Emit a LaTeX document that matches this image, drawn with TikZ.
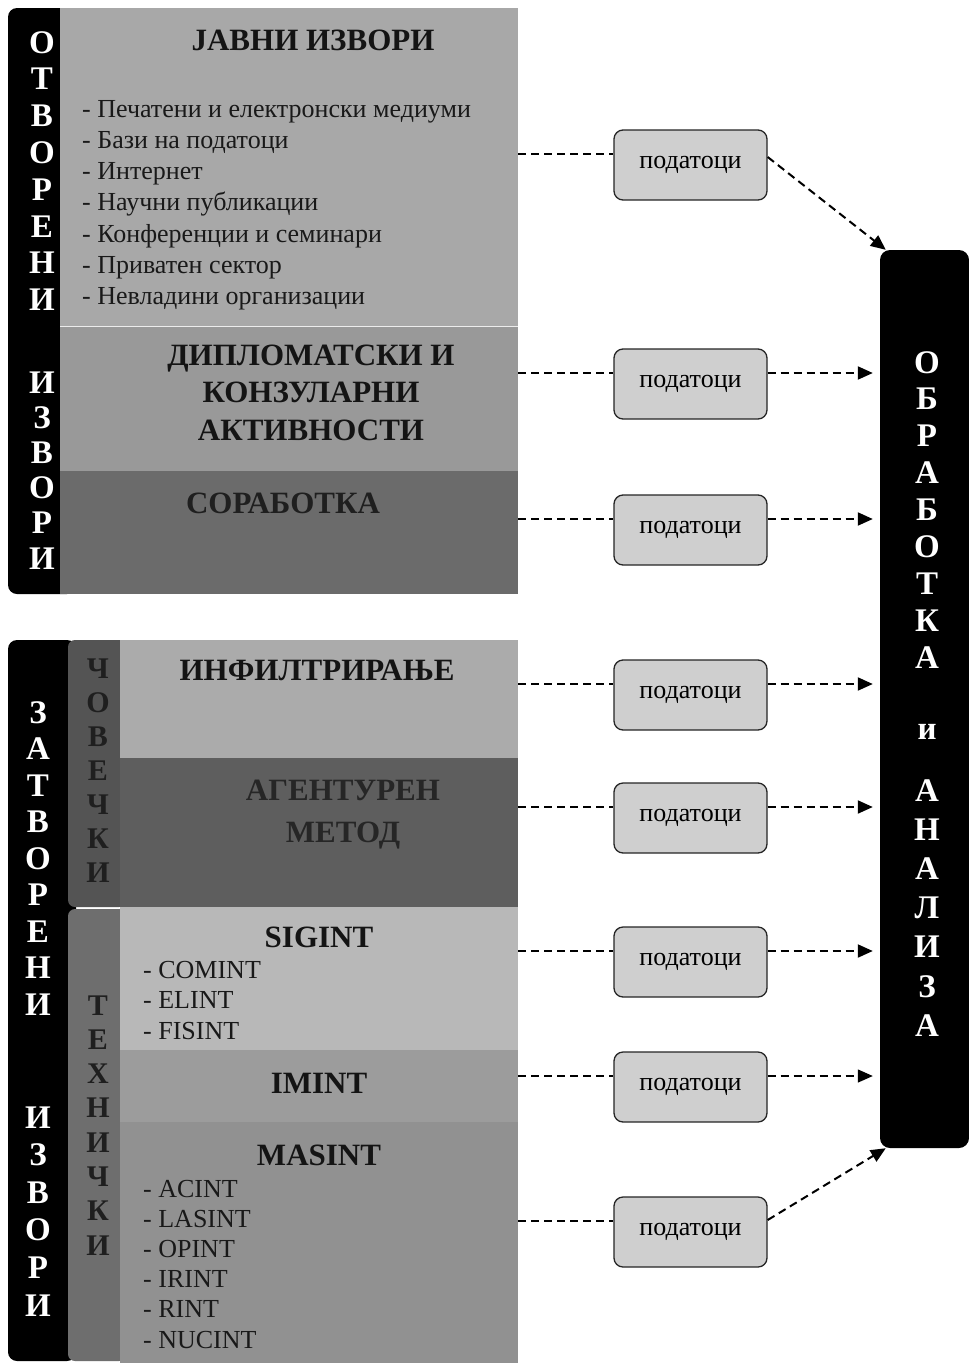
\documentclass[tikz,border=0pt]{standalone}
\usepackage{fontspec}
\setmainfont{Liberation Serif}
\usetikzlibrary{arrows.meta,calc}
\definecolor{cjavni}{gray}{0.66}
\definecolor{cdipl}{gray}{0.60}
\definecolor{csorab}{gray}{0.42}
\definecolor{cinf}{gray}{0.67}
\definecolor{cagen}{gray}{0.37}
\definecolor{csig}{gray}{0.72}
\definecolor{cimint}{gray}{0.61}
\definecolor{cmasint}{gray}{0.57}
\definecolor{cchov}{gray}{0.33}
\definecolor{ctehn}{gray}{0.43}
\definecolor{cbox}{gray}{0.81}
\begin{document}
\begin{tikzpicture}[x=1pt,y=-1pt,
  ttl/.style={font=\fontsize{31}{37}\selectfont\bfseries, inner sep=0pt, anchor=base, text=black!92},
  itm/.style={font=\fontsize{26}{31}\selectfont, inner sep=0pt, anchor=base west, text=black!90},
  bl/.style={font=\fontsize{33}{33}\selectfont\bfseries, inner sep=0pt, text=white, text height=22pt, text depth=0pt, anchor=center},
  gl/.style={font=\fontsize{30}{30}\selectfont\bfseries, inner sep=0pt, text=black!88, text height=20pt, text depth=0pt, anchor=center},
  dbox/.style={draw=black!85, line width=1.3pt, rounded corners=9pt, fill=cbox, minimum width=153pt, minimum height=70pt, inner sep=0pt, font=\fontsize{26}{30}\selectfont},
  dline/.style={dash pattern=on 8pt off 5pt, line width=2pt},
  arr/.style={-{Triangle[length=15pt,width=13pt]}}]
\useasboundingbox[fill=white] (0,0) rectangle (969,1363);

% ---------- top group ----------
\fill[black, rounded corners=9pt] (8,8) rectangle (76,594);
\fill[cjavni] (60,8) rectangle (518,326);
\fill[cdipl] (60,326) rectangle (518,471);
\fill[csorab] (60,471) rectangle (518,594);
\draw[white!85!gray, line width=1pt] (60,326) -- (518,326);

\foreach \l [count=\i from 0] in {О,Т,В,О,Р,Е,Н,И}
  \node[bl] (ot\i) at (42,{42+36.8*\i}) {\l};
\foreach \l [count=\i from 0] in {И,З,В,О,Р,И}
  \node[bl] (oi\i) at (42,{382+35.2*\i}) {\l};

\node[ttl] (javni) at (313,50) {ЈАВНИ ИЗВОРИ};
\foreach \t [count=\i from 0] in {Печатени и електронски медиуми,Бази на податоци,Интернет,Научни публикации,Конференции и семинари,Приватен сектор,Невладини организации}
  \node[itm] (ji\i) at (82,{117+31.3*\i}) {- \t};
\node[ttl] (dip1) at (311,365) {ДИПЛОМАТСКИ И};
\node[ttl] (dip2) at (311,402) {КОНЗУЛАРНИ};
\node[ttl] (dip3) at (311,440) {АКТИВНОСТИ};
\node[ttl, text=black!88] (sor) at (283,513) {СОРАБОТКА};

% ---------- bottom group ----------
\fill[black, rounded corners=9pt] (8,640) rectangle (76,1361);
\fill[cchov, rounded corners=7pt] (68,640) rectangle (126,907);
\fill[ctehn, rounded corners=7pt] (68,909) rectangle (126,1361);
\fill[cinf] (120,640) rectangle (518,758);
\fill[cagen] (120,758) rectangle (518,907);
\fill[csig] (120,907) rectangle (518,1050);
\fill[cimint] (120,1050) rectangle (518,1122);
\fill[cmasint] (120,1122) rectangle (518,1363);

\foreach \l [count=\i from 0] in {З,А,Т,В,О,Р,Е,Н,И}
  \node[bl] (zt\i) at (38,{712+36.5*\i}) {\l};
\foreach \l [count=\i from 0] in {И,З,В,О,Р,И}
  \node[bl] (zi\i) at (38,{1117+37.6*\i}) {\l};
\foreach \l [count=\i from 0] in {Ч,О,В,Е,Ч,К,И}
  \node[gl] (ch\i) at (98,{668+34*\i}) {\l};
\foreach \l [count=\i from 0] in {Т,Е,Х,Н,И,Ч,К,И}
  \node[gl] (te\i) at (98,{1005+34.3*\i}) {\l};

\node[ttl] (inf) at (317,680) {ИНФИЛТРИРАЊЕ};
\node[ttl, text=black!85] (ag1) at (343,800) {АГЕНТУРЕН};
\node[ttl, text=black!85] (ag2) at (343,842) {МЕТОД};
\node[ttl] (sig) at (319,947) {SIGINT};
\foreach \t [count=\i from 0] in {COMINT,ELINT,FISINT}
  \node[itm] (si\i) at (143,{978+30.5*\i}) {- \t};
\node[ttl] (imint) at (319,1093) {IMINT};
\node[ttl] (masint) at (319,1165) {MASINT};
\foreach \t [count=\i from 0] in {ACINT,LASINT,OPINT,IRINT,RINT,NUCINT}
  \node[itm] (ma\i) at (143,{1197+30.2*\i}) {- \t};

% ---------- right bar ----------
\node[fill=black, rounded corners=10pt, minimum width=89pt, minimum height=898pt, inner sep=0pt] (obr) at (924.5,699) {};
\foreach \l [count=\i from 0] in {О,Б,Р,А,Б,О,Т,К,А}
  \node[bl] (ob\i) at (927,{362+36.9*\i}) {\l};
\node[bl] (obi) at (927,728) {и};
\foreach \l [count=\i from 0] in {А,Н,А,Л,И,З,А}
  \node[bl] (an\i) at (927,{790+39.2*\i}) {\l};

% ---------- data boxes and connectors ----------
\foreach \k/\yc in {1/165,2/384,3/530,4/695,5/818,6/962,7/1087,8/1232}{
  \node[dbox] (b\k) at (690.5,\yc) {податоци};
  \coordinate (p\k) at (518,{\yc-11});
}
\foreach \k in {1,...,8}
  \draw[dline] (p\k) -- (p\k -| b\k.west);
\foreach \k in {2,3,4,5,6}
  \draw[dline,arr,shorten >=7pt] (b\k.east |- p\k) -- (p\k -| obr.west);
\draw[dline,line width=1.2pt,arr,shorten >=7pt] (b7.east |- p7) -- (p7 -| obr.west);
\draw[dline,arr] ($(b1.east)+(0,-8)$) -- ($(obr.north west)+(6,0)$);
\draw[dline,arr] ($(b8.east)+(0,-12)$) -- ($(obr.south west)+(6,0)$);
\end{tikzpicture}
\end{document}
